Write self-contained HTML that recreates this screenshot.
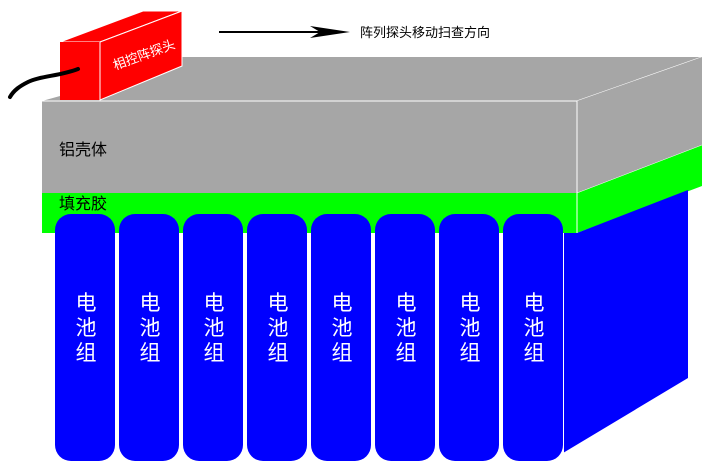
<!DOCTYPE html>
<html><head><meta charset="utf-8"><style>
body{margin:0;background:#fff;width:715px;height:469px;overflow:hidden}
text{font-family:"Liberation Sans","Noto Sans CJK SC",sans-serif}
</style></head><body>
<svg width="715" height="469" viewBox="0 0 715 469">
<polygon points="42,101 60,96 60,57 702,57 577,101" fill="#a6a6a6"/>
<line x1="577" y1="101" x2="702" y2="57" stroke="#fff" stroke-width="1"/>
<polygon points="577,101 702,57 702,145 577,193" fill="#a6a6a6"/>
<polygon points="577,193 702,145 702,186 577,233" fill="#00ff00"/>
<polygon points="563,233 577,233 688,190 688,378 563,453" fill="#0000ff"/>
<rect x="42" y="101" width="535" height="92" fill="#a6a6a6"/>
<rect x="42" y="193" width="535" height="40" fill="#00ff00"/>
<line x1="42" y1="101" x2="577" y2="101" stroke="#fff"/>
<line x1="577" y1="101" x2="577" y2="233" stroke="#fff"/>
<line x1="577" y1="193" x2="702" y2="145" stroke="#fff" stroke-width="0.5"/>
<g fill="#0000ff">
<rect x="55" y="214" width="60" height="247" rx="16"/>
<rect x="119" y="214" width="60" height="247" rx="16"/>
<rect x="183" y="214" width="60" height="247" rx="16"/>
<rect x="247" y="214" width="60" height="247" rx="16"/>
<rect x="311" y="214" width="60" height="247" rx="16"/>
<rect x="375" y="214" width="60" height="247" rx="16"/>
<rect x="439" y="214" width="60" height="247" rx="16"/>
<rect x="503" y="214" width="60" height="247" rx="16"/>
</g>
<line x1="563.5" y1="233" x2="563.5" y2="453" stroke="#fff"/>
<g fill="#fff" font-size="21" text-anchor="middle">
<text x="86" y="310">电</text><text x="86" y="335">池</text><text x="86" y="360">组</text>
<text x="150" y="310">电</text><text x="150" y="335">池</text><text x="150" y="360">组</text>
<text x="214" y="310">电</text><text x="214" y="335">池</text><text x="214" y="360">组</text>
<text x="278" y="310">电</text><text x="278" y="335">池</text><text x="278" y="360">组</text>
<text x="342" y="310">电</text><text x="342" y="335">池</text><text x="342" y="360">组</text>
<text x="406" y="310">电</text><text x="406" y="335">池</text><text x="406" y="360">组</text>
<text x="470" y="310">电</text><text x="470" y="335">池</text><text x="470" y="360">组</text>
<text x="534" y="310">电</text><text x="534" y="335">池</text><text x="534" y="360">组</text>
</g>
<text x="59" y="155" font-size="16" fill="#000">铝壳体</text>
<text x="59" y="209" font-size="16" fill="#000">填充胶</text>
<polygon points="60,42 143,11 182,11 100,42" fill="#ff0000" stroke="#fff" stroke-width="1"/>
<polygon points="100,42 182,11 182,66 100,100" fill="#ff0000" stroke="#fff" stroke-width="1"/>
<rect x="60" y="42" width="40" height="58" fill="#ff0000"/>
<line x1="100" y1="42" x2="100" y2="100" stroke="#fff"/>
<text x="0" y="0" font-size="13" fill="#fff" transform="translate(115,70) rotate(-20)">相控阵探头</text>
<path d="M78,69 C60,76 40,76 28,82 C20,86 14,90 10,97" stroke="#000" stroke-width="4" fill="none" stroke-linecap="round"/>
<line x1="219" y1="32" x2="340" y2="32" stroke="#000" stroke-width="2"/>
<path d="M310,26 L350,32 L310,38 L320,32 Z" fill="#000"/>
<text x="360" y="37" font-size="13" fill="#000">阵列探头移动扫查方向</text>
</svg>
</body></html>
